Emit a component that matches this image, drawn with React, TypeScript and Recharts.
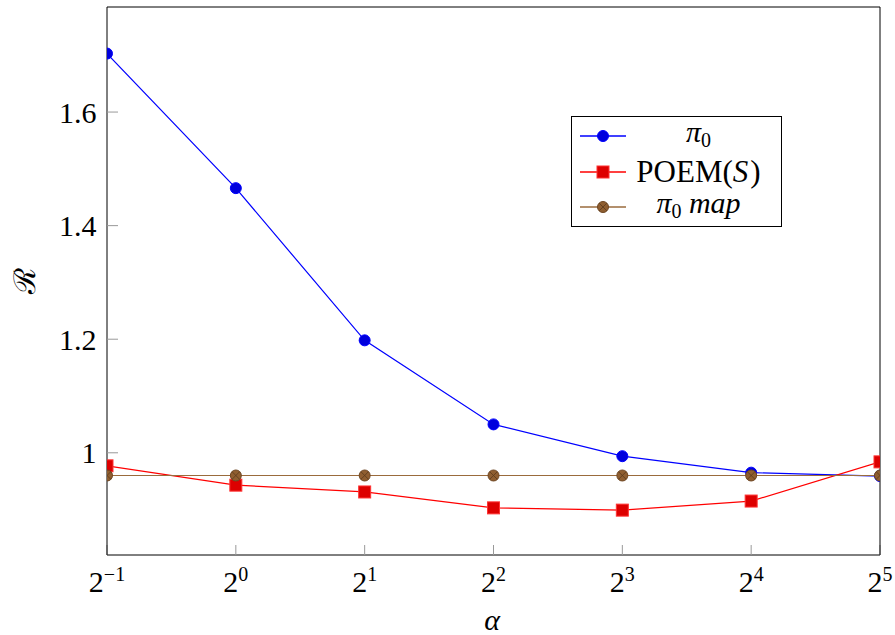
import { Legend, Line, LineChart, XAxis, YAxis } from 'recharts'

// x positions are powers of two: alpha = 2^exponent
const exponents = [-1, 0, 1, 2, 3, 4, 5]
const pi0 = [1.703, 1.466, 1.198, 1.05, 0.994, 0.965, 0.959]
const poem = [0.977, 0.943, 0.931, 0.903, 0.899, 0.915, 0.984]
const pi0Map = [0.96, 0.96, 0.96, 0.96, 0.96, 0.96, 0.96]
const yTicks = [1, 1.2, 1.4, 1.6]

const data = exponents.map((e, i) => ({
  e,
  pi0: pi0[i],
  poem: poem[i],
  pi0Map: pi0Map[i],
}))

const SERIF = 'Liberation Serif'
const BLUE = '#0000ff'
const RED = '#ff0000'
const BROWN = '#9a6b3c'

function CircleDot(props: any) {
  const { cx, cy, index } = props
  if (cx == null || cy == null) return null
  return <circle key={`c-${index}`} cx={cx} cy={cy} r={5.5} fill="#0000dd" stroke={BLUE} strokeWidth={1} />
}

function SquareDot(props: any) {
  const { cx, cy, index } = props
  if (cx == null || cy == null) return null
  return <rect key={`s-${index}`} x={cx - 6} y={cy - 6} width={12} height={12} fill="#dd0000" stroke="#ff3333" strokeWidth={1} />
}

function OTimesDot(props: any) {
  const { cx, cy, index } = props
  if (cx == null || cy == null) return null
  const d = 3.8
  return (
    <g key={`o-${index}`}>
      <circle cx={cx} cy={cy} r={5.5} fill="#8f5e30" stroke="#6e4622" strokeWidth={1} />
      <line x1={cx - d} y1={cy - d} x2={cx + d} y2={cy + d} stroke="#5a3a1c" strokeWidth={0.8} />
      <line x1={cx - d} y1={cy + d} x2={cx + d} y2={cy - d} stroke="#5a3a1c" strokeWidth={0.8} />
    </g>
  )
}

function PowerTick(props: any) {
  const { x, y, payload } = props
  const exp = String(payload.value).replace('-', '\u2212')
  return (
    <text x={x} y={y + 37} textAnchor="middle" style={{ fontFamily: SERIF }} fontSize={30} fill="#000">
      2
      <tspan dy={-11} fontSize={20}>
        {exp}
      </tspan>
    </text>
  )
}

const sub = { fontSize: 20, verticalAlign: '-0.25em', fontStyle: 'normal' as const }

function LegendIcon({ color, marker }: { color: string; marker: 'circle' | 'square' | 'otimes' }) {
  return (
    <svg width={46} height={16} style={{ display: 'block' }}>
      <line x1={0} y1={8} x2={46} y2={8} stroke={color} strokeWidth={1.3} />
      {marker === 'circle' && <CircleDot cx={23} cy={8} index={0} />}
      {marker === 'square' && <SquareDot cx={23} cy={8} index={0} />}
      {marker === 'otimes' && <OTimesDot cx={23} cy={8} index={0} />}
    </svg>
  )
}

function renderLegend() {
  const rows = [
    {
      key: 'pi0',
      icon: <LegendIcon color={BLUE} marker="circle" />,
      label: (
        <span>
          <i>π</i>
          <span style={sub}>0</span>
        </span>
      ),
    },
    {
      key: 'poem',
      icon: <LegendIcon color={RED} marker="square" />,
      label: (
        <span style={{ fontSize: 31 }}>
          POEM(<i style={{ letterSpacing: 2 }}>S</i>)
        </span>
      ),
    },
    {
      key: 'map',
      icon: <LegendIcon color={BROWN} marker="otimes" />,
      label: (
        <span>
          <i>π</i>
          <span style={sub}>0</span> <i>map</i>
        </span>
      ),
    },
  ]
  return (
    <div
      style={{
        boxSizing: 'border-box',
        width: 211,
        height: 111,
        border: '1px solid #000',
        background: '#fff',
        display: 'flex',
        flexDirection: 'column',
        justifyContent: 'space-evenly',
        fontFamily: SERIF,
        fontSize: 30,
        color: '#000',
      }}
    >
      {rows.map((r) => (
        <div key={r.key} style={{ display: 'flex', alignItems: 'center', height: 34 }}>
          <div style={{ marginLeft: 8 }}>{r.icon}</div>
          <div style={{ flex: 1, textAlign: 'center', lineHeight: '34px', whiteSpace: 'nowrap', paddingRight: 10 }}>
            {r.label}
          </div>
        </div>
      ))}
    </div>
  )
}

export default function App() {
  return (
    <div style={{ position: 'absolute', left: 0, top: 0, background: '#fff' }}>
      <LineChart width={895} height={635} data={data} margin={{ top: 0, right: 0, left: 0, bottom: 0 }}>
        <XAxis
          xAxisId="bottom"
          dataKey="e"
          type="number"
          domain={[-1, 5]}
          ticks={exponents}
          allowDataOverflow
          height={80}
          axisLine={{ stroke: '#000' }}
          tickLine={{ stroke: '#999' }}
          tickSize={-10}
          tickMargin={10}
          tick={<PowerTick />}
        />
        <XAxis
          xAxisId="top"
          orientation="top"
          dataKey="e"
          type="number"
          domain={[-1, 5]}
          ticks={exponents}
          allowDataOverflow
          height={7}
          axisLine={{ stroke: '#000' }}
          tickLine={{ stroke: '#999' }}
          tickSize={-11}
          tick={false}
        />
        <YAxis
          yAxisId="left"
          type="number"
          domain={[0.82, 1.785]}
          ticks={yTicks}
          allowDataOverflow
          width={107}
          axisLine={{ stroke: '#000' }}
          tickLine={{ stroke: '#999' }}
          tickSize={-11}
          tickMargin={21.5}
          tickFormatter={(v: number) => (v === 1 ? '1' : v.toFixed(1))}
          tick={{ fill: '#000', fontSize: 30, style: { fontFamily: SERIF } }}
        />
        <YAxis
          yAxisId="right"
          orientation="right"
          type="number"
          domain={[0.82, 1.785]}
          ticks={yTicks}
          allowDataOverflow
          width={15}
          axisLine={{ stroke: '#000' }}
          tickLine={{ stroke: '#999' }}
          tickSize={-11}
          tick={false}
        />
        <Line
          xAxisId="bottom"
          yAxisId="left"
          dataKey="pi0"
          stroke={BLUE}
          strokeWidth={1.2}
          dot={CircleDot}
          activeDot={false}
          isAnimationActive={false}
        />
        <Line
          xAxisId="bottom"
          yAxisId="left"
          dataKey="poem"
          stroke={RED}
          strokeWidth={1.2}
          dot={SquareDot}
          activeDot={false}
          isAnimationActive={false}
        />
        <Line
          xAxisId="bottom"
          yAxisId="left"
          dataKey="pi0Map"
          stroke={BROWN}
          strokeWidth={1.2}
          dot={OTimesDot}
          activeDot={false}
          isAnimationActive={false}
        />
        <Legend
          layout="horizontal"
          verticalAlign="middle"
          align="center"
          content={renderLegend}
          wrapperStyle={{ left: 571, top: 116, width: 211, height: 111 }}
        />
        <text x={24} y={281} transform="rotate(-90 24 281)" textAnchor="middle" dominantBaseline="central" style={{ fontFamily: SERIF }} fontSize={30} fill="#000">
          ℛ
        </text>
        <text x={492} y={630} textAnchor="middle" style={{ fontFamily: SERIF }} fontStyle="italic" fontSize={30} fill="#000">
          α
        </text>
      </LineChart>
    </div>
  )
}
